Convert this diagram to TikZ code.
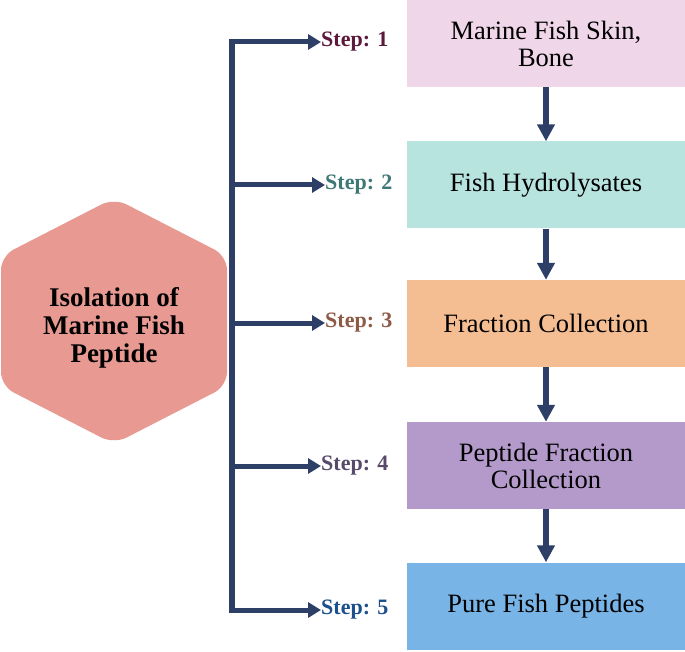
\documentclass[tikz,border=0pt]{standalone}
\usepackage{fontspec}
\setmainfont{Liberation Serif}
\newfontfamily\timesfont{Liberation Serif}
\usepackage{xcolor}
\usetikzlibrary{arrows.meta}

\definecolor{navy}{HTML}{2E3F67}
\definecolor{hexfill}{HTML}{E89992}
\definecolor{boxA}{HTML}{EFD6E8}
\definecolor{boxB}{HTML}{B8E4E0}
\definecolor{boxC}{HTML}{F5BE92}
\definecolor{boxD}{HTML}{B39ACB}
\definecolor{boxE}{HTML}{78B4E6}
\definecolor{stepA}{HTML}{5B1A3C}
\definecolor{stepB}{HTML}{3D7874}
\definecolor{stepC}{HTML}{8C5A45}
\definecolor{stepD}{HTML}{574A6C}
\definecolor{stepE}{HTML}{1C4F8C}

\begin{document}
\begin{tikzpicture}[x=1pt, y=-1pt,
    stage/.style={minimum width=278pt, minimum height=87pt, inner sep=0pt,
        align=center, font=\timesfont\fontsize{26.5}{27}\selectfont},
    steplbl/.style={anchor=west, inner sep=0pt, font=\timesfont\fontsize{22}{24}\selectfont\bfseries},
    branch/.style={navy, line width=5pt, -{Triangle[length=13pt, width=15pt]}},
    flow/.style={navy, line width=6pt, -{Triangle[length=17pt, width=17pt]}}]
    \useasboundingbox (0,0) rectangle (685,652);

    % Hexagon with title
    \fill[hexfill, rounded corners=14pt] (114,198) -- (227,256) -- (227,386)
        -- (114,444) -- (1,386) -- (1,256) -- cycle;
    \node[align=center, font=\timesfont\fontsize{27}{28}\selectfont\bfseries] (title) at (114,328)
        {Isolation of\\Marine Fish\\Peptide};

    % Stage boxes
    \node[stage, fill=boxA] (box1) at (546,43.5) {Marine Fish Skin,\\Bone};
    \node[stage, fill=boxB] (box2) at (546,185) {Fish Hydrolysates};
    \node[stage, fill=boxC] (box3) at (546,323.5) {Fraction Collection};
    \node[stage, fill=boxD] (box4) at (546,465.5) {Peptide Fraction\\Collection};
    \node[stage, fill=boxE] (box5) at (546,606) {Pure Fish Peptides};

    % Step labels
    \node[steplbl, stepA] (step1) at (321,42) {Step: 1};
    \node[steplbl, stepB] (step2) at (325,185) {Step: 2};
    \node[steplbl, stepC] (step3) at (325,323) {Step: 3};
    \node[steplbl, stepD] (step4) at (321,466) {Step: 4};
    \node[steplbl, stepE] (step5) at (321,610) {Step: 5};

    % Trunk and branches
    \coordinate (t1) at (232,42);
    \coordinate (t2) at (232,185);
    \coordinate (t3) at (232,323);
    \coordinate (t4) at (232,466);
    \coordinate (t5) at (232,610);
    \draw[navy, line width=5.5pt, line cap=rect] (t1) -- (t5);
    \draw[branch] (t1) -- (step1.west);
    \draw[branch] (t2) -- (step2.west);
    \draw[branch] (t3) -- (step3.west);
    \draw[branch] (t4) -- (step4.west);
    \draw[branch] (t5) -- (step5.west);

    % Flow between boxes
    \draw[flow] (box1) -- (box2);
    \draw[flow] (box2) -- (box3);
    \draw[flow] (box3) -- (box4);
    \draw[flow] (box4) -- (box5);
\end{tikzpicture}
\end{document}
